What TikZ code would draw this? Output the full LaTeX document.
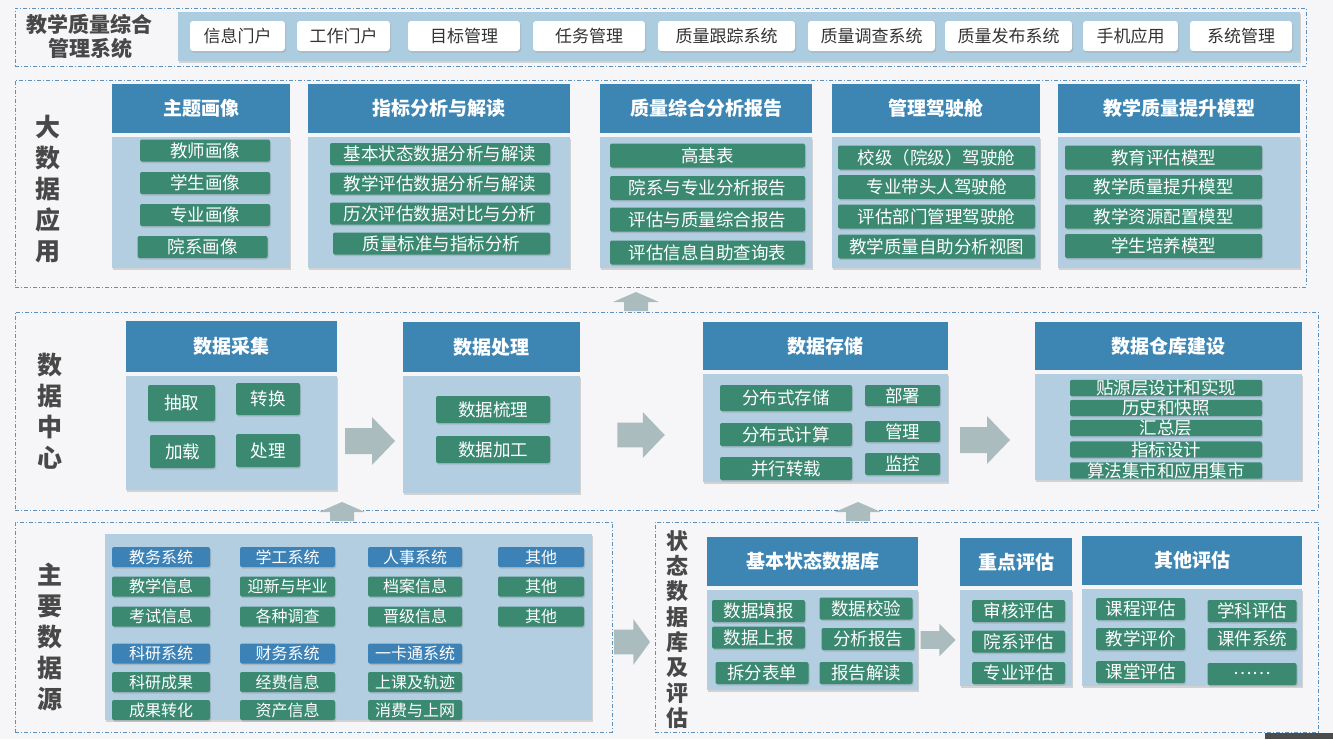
\documentclass[tikz,border=0pt]{standalone}
\usepackage{fontspec}
\setmainfont{Noto Sans CJK SC}
\usepackage{xcolor}
\usetikzlibrary{positioning,shadows}
\definecolor{bgcol}{RGB}{246,246,248}
\definecolor{zonecol}{RGB}{92,145,190}
\definecolor{headblue}{RGB}{61,134,180}
\definecolor{bodyblue}{RGB}{178,206,224}
\definecolor{bandblue}{RGB}{172,204,223}
\definecolor{itemgreen}{RGB}{58,137,112}
\definecolor{srcblue}{RGB}{60,130,182}
\definecolor{arrowcol}{RGB}{170,188,190}
\definecolor{labelgray}{RGB}{72,72,72}

\tikzset{
  rblock/.pic={\fill[arrowcol] (-25,-13) -- (2,-13) -- (2,-24) -- (25,0) -- (2,24) -- (2,13) -- (-25,13) -- cycle;},
  ublock/.pic={\fill[arrowcol] (-12,9) -- (-12,0) -- (-23,0) -- (0,-10) -- (23,0) -- (12,0) -- (12,9) -- cycle;}
}

\begin{document}
\begin{tikzpicture}[x=1pt,y=-1pt,
  lift/.style={drop shadow={shadow xshift=1pt,shadow yshift=-1.5pt,opacity=0.3}},
  zone/.style={draw=zonecol,line width=0.8pt,dash pattern=on 4pt off 2pt on 1pt off 2pt,inner sep=0pt},
  vlabel/.style={font=\fontsize{25}{31}\selectfont\bfseries,text=labelgray,align=center,inner sep=0pt},
  band/.style={fill=bandblue,inner sep=0pt,lift},
  tab/.style={fill=white,rounded corners=3pt,text=black!80,font=\fontsize{17}{19}\selectfont,inner sep=0pt,minimum height=30pt,lift},
  hdr/.style={fill=headblue,text=white,font=\fontsize{19}{21}\selectfont\bfseries,inner sep=0pt},
  body/.style={fill=bodyblue,inner sep=0pt,lift},
  item/.style={fill=itemgreen,text=white,rounded corners=2pt,font=\fontsize{17.5}{19}\selectfont,inner sep=0pt,lift},
  src/.style={item,font=\fontsize{16}{18}\selectfont,minimum height=20pt}]

\fill[bgcol] (0,0) rectangle (1333,739);
\useasboundingbox (0,0) rectangle (1333,739);

% management system bar
\node[zone,minimum width=1291pt,minimum height=58pt] (zsys) at (660.5,37) {};
\node[font=\fontsize{21}{24}\selectfont\bfseries,text=labelgray,align=center,inner sep=0pt] (systitle) at (90,37) {教学质量综合\\管理系统};
\node[band,minimum width=1122pt,minimum height=49pt] (sysband) at (739,36.5) {};
\node[tab,minimum width=95pt] (tp1) at (237.5,36) {信息门户};
\node[tab,minimum width=93pt] (tp2) at (343.5,36) {工作门户};
\node[tab,minimum width=112pt] (tp3) at (464,36) {目标管理};
\node[tab,minimum width=112pt] (tp4) at (589,36) {任务管理};
\node[tab,minimum width=137pt] (tp5) at (726.5,36) {质量跟踪系统};
\node[tab,minimum width=127pt] (tp6) at (871.5,36) {质量调查系统};
\node[tab,minimum width=127pt] (tp7) at (1008.5,36) {质量发布系统};
\node[tab,minimum width=95pt] (tp8) at (1130.5,36) {手机应用};
\node[tab,minimum width=102pt] (tp9) at (1241,36) {系统管理};

% big data applications
\node[zone,minimum width=1291pt,minimum height=207pt] (zapp) at (660.5,183.5) {};
\node[vlabel] (lapp) at (48,189) {大\\数\\据\\应\\用};

\node[hdr,minimum width=178pt,minimum height=49pt] (portrait) at (201,108.5) {主题画像};
\node[body,minimum width=178pt,minimum height=131pt,below=4pt of portrait] (portraitbody) {};
\node[item,minimum width=130pt,minimum height=22pt] (pt1) at (205,150.5) {教师画像};
\node[item,minimum width=130pt,minimum height=22pt] (pt2) at (205,183) {学生画像};
\node[item,minimum width=130pt,minimum height=22pt] (pt3) at (205,215) {专业画像};
\node[item,minimum width=130pt,minimum height=22pt] (pt4) at (202.5,247) {院系画像};

\node[hdr,minimum width=262pt,minimum height=49pt] (index) at (439,108.5) {指标分析与解读};
\node[body,minimum width=262pt,minimum height=131pt,below=4pt of index] (indexbody) {};
\node[item,minimum width=220pt,minimum height=22pt] (ix1) at (440,154) {基本状态数据分析与解读};
\node[item,minimum width=220pt,minimum height=22pt] (ix2) at (440,183.5) {教学评估数据分析与解读};
\node[item,minimum width=220pt,minimum height=22pt] (ix3) at (440,213.5) {历次评估数据对比与分析};
\node[item,minimum width=217pt,minimum height=22pt] (ix4) at (441.5,243.5) {质量标准与指标分析};

\node[hdr,minimum width=212pt,minimum height=49pt] (report) at (706,108.5) {质量综合分析报告};
\node[body,minimum width=212pt,minimum height=131pt,below=4pt of report] (reportbody) {};
\node[item,minimum width=195pt,minimum height=24pt] (rp1) at (707.5,155.5) {高基表};
\node[item,minimum width=195pt,minimum height=24pt] (rp2) at (707.5,188) {院系与专业分析报告};
\node[item,minimum width=195pt,minimum height=24pt] (rp3) at (707.5,219.5) {评估与质量综合报告};
\node[item,minimum width=195pt,minimum height=24pt] (rp4) at (707.5,252.5) {评估信息自助查询表};

\node[hdr,minimum width=208pt,minimum height=49pt] (cockpit) at (936,108.5) {管理驾驶舱};
\node[body,minimum width=208pt,minimum height=131pt,below=4pt of cockpit] (cockpitbody) {};
\node[item,minimum width=197pt,minimum height=24pt] (ck1) at (936.5,157.5) {校级（院级）驾驶舱};
\node[item,minimum width=197pt,minimum height=24pt] (ck2) at (936.5,187) {专业带头人驾驶舱};
\node[item,minimum width=197pt,minimum height=24pt] (ck3) at (936.5,216.5) {评估部门管理驾驶舱};
\node[item,minimum width=197pt,minimum height=24pt] (ck4) at (936.5,246.5) {教学质量自助分析视图};

\node[hdr,minimum width=242pt,minimum height=49pt] (model) at (1179,108.5) {教学质量提升模型};
\node[body,minimum width=242pt,minimum height=131pt,below=4pt of model] (modelbody) {};
\node[item,minimum width=197pt,minimum height=24pt] (md1) at (1163.5,157.5) {教育评估模型};
\node[item,minimum width=197pt,minimum height=24pt] (md2) at (1163.5,187) {教学质量提升模型};
\node[item,minimum width=197pt,minimum height=24pt] (md3) at (1163.5,216.5) {教学资源配置模型};
\node[item,minimum width=197pt,minimum height=24pt] (md4) at (1163.5,246) {学生培养模型};

\pic at (636,302) {ublock};

% data centre
\node[zone,minimum width=1303pt,minimum height=198pt] (zdc) at (666.5,411) {};
\node[vlabel] (ldc) at (50,411.5) {数\\据\\中\\心};

\node[hdr,minimum width=211pt,minimum height=51pt] (collect) at (231.5,346.5) {数据采集};
\node[body,minimum width=211pt,minimum height=114pt,below=4pt of collect] (collectbody) {};
\node[item,minimum width=67pt,minimum height=36pt] (cl1) at (181.5,403) {抽取};
\node[item,minimum width=64pt,minimum height=32pt] (cl2) at (268,399) {转换};
\node[item,minimum width=65pt,minimum height=33pt] (cl3) at (182.5,451.5) {加载};
\node[item,minimum width=64pt,minimum height=33pt] (cl4) at (268,450.5) {处理};

\pic at (370,441) {rblock};

\node[hdr,minimum width=177pt,minimum height=50pt] (process) at (491.5,347) {数据处理};
\node[body,minimum width=177pt,minimum height=117pt,below=4pt of process] (processbody) {};
\node[item,minimum width=114pt,minimum height=27pt] (pr1) at (493,409.5) {数据梳理};
\node[item,minimum width=114pt,minimum height=27pt] (pr2) at (493,449.5) {数据加工};

\pic[scale=0.95] at (641,435) {rblock};

\node[hdr,minimum width=245pt,minimum height=48pt] (storage) at (825.5,346) {数据存储};
\node[body,minimum width=245pt,minimum height=108pt,below=4pt of storage] (storagebody) {};
\node[item,minimum width=132pt,minimum height=26pt] (st1) at (786,398) {分布式存储};
\node[item,minimum width=75pt,minimum height=21pt] (st2) at (902.5,395.5) {部署};
\node[item,minimum width=132pt,minimum height=23pt] (st3) at (786,434.5) {分布式计算};
\node[item,minimum width=75pt,minimum height=21pt] (st4) at (902.5,431.5) {管理};
\node[item,minimum width=132pt,minimum height=23pt] (st5) at (786,468.5) {并行转载};
\node[item,minimum width=75pt,minimum height=22pt] (st6) at (902.5,464) {监控};

\pic at (985,440) {rblock};

\node[hdr,minimum width=267pt,minimum height=48pt] (warehouse) at (1168.5,346) {数据仓库建设};
\node[body,minimum width=267pt,minimum height=106pt,below=4pt of warehouse] (warehousebody) {};
\node[item,minimum width=192pt,minimum height=16pt] (wh1) at (1166,388) {贴源层设计和实现};
\node[item,minimum width=192pt,minimum height=16pt] (wh2) at (1166,408) {历史和快照};
\node[item,minimum width=192pt,minimum height=16pt] (wh3) at (1166,428) {汇总层};
\node[item,minimum width=192pt,minimum height=16pt] (wh4) at (1166,449.5) {指标设计};
\node[item,minimum width=192pt,minimum height=16pt] (wh5) at (1166,470.5) {算法集市和应用集市};

\pic at (342,512) {ublock};
\pic at (858,512) {ublock};

% main data sources
\node[zone,minimum width=597pt,minimum height=210pt] (zsrc) at (313.5,627) {};
\node[vlabel] (lsrc) at (50,637) {主\\要\\数\\据\\源};
\node[body,minimum width=487pt,minimum height=186pt] (srcbody) at (348.5,627) {};
\node[src,fill=srcblue,minimum width=98pt] (sa1) at (161,557) {教务系统};
\node[src,fill=srcblue,minimum width=95pt] (sb1) at (287.5,557) {学工系统};
\node[src,fill=srcblue,minimum width=94pt] (sc1) at (415,557) {人事系统};
\node[src,fill=srcblue,minimum width=86pt] (sd1) at (541,557) {其他};
\node[src,minimum width=98pt] (sa2) at (161,586.5) {教学信息};
\node[src,minimum width=95pt] (sb2) at (287.5,586.5) {迎新与毕业};
\node[src,minimum width=94pt] (sc2) at (415,586.5) {档案信息};
\node[src,minimum width=86pt] (sd2) at (541,586.5) {其他};
\node[src,minimum width=98pt] (sa3) at (161,616.5) {考试信息};
\node[src,minimum width=95pt] (sb3) at (287.5,616.5) {各种调查};
\node[src,minimum width=94pt] (sc3) at (415,616.5) {晋级信息};
\node[src,minimum width=86pt] (sd3) at (541,616.5) {其他};
\node[src,fill=srcblue,minimum width=98pt] (sa4) at (161,653.5) {科研系统};
\node[src,fill=srcblue,minimum width=95pt] (sb4) at (287.5,653.5) {财务系统};
\node[src,fill=srcblue,minimum width=94pt] (sc4) at (415,653.5) {一卡通系统};
\node[src,minimum width=98pt] (sa5) at (161,682) {科研成果};
\node[src,minimum width=95pt] (sb5) at (287.5,682) {经费信息};
\node[src,minimum width=94pt] (sc5) at (415,682) {上课及轨迹};
\node[src,minimum width=98pt] (sa6) at (161,710) {成果转化};
\node[src,minimum width=95pt] (sb6) at (287.5,710) {资产信息};
\node[src,minimum width=94pt] (sc6) at (415,710) {消费与上网};

\pic[xscale=0.72,yscale=0.95] at (632,642) {rblock};

% state database and evaluation
\node[zone,minimum width=663pt,minimum height=210pt] (zstate) at (986.5,627) {};
\node[vlabel,font=\fontsize{22}{25.3}\selectfont\bfseries] (lstate) at (677,629.5) {状\\态\\数\\据\\库\\及\\评\\估};

\node[hdr,minimum width=211pt,minimum height=49pt] (basedb) at (812.5,561.5) {基本状态数据库};
\node[body,minimum width=211pt,minimum height=100pt,below=4pt of basedb] (basedbbody) {};
\node[item,minimum width=93pt,minimum height=22pt] (bd1) at (758.5,611) {数据填报};
\node[item,minimum width=93pt,minimum height=22pt] (bd2) at (866,608.5) {数据校验};
\node[item,minimum width=93pt,minimum height=22pt] (bd3) at (758.5,637.5) {数据上报};
\node[item,minimum width=93pt,minimum height=22pt] (bd4) at (868,639) {分析报告};
\node[item,minimum width=93pt,minimum height=22pt] (bd5) at (762,673) {拆分表单};
\node[item,minimum width=93pt,minimum height=22pt] (bd6) at (866,673) {报告解读};

\pic[xscale=0.7,yscale=0.68] at (938,640) {rblock};

\node[hdr,minimum width=112pt,minimum height=48pt] (keyeval) at (1016,562) {重点评估};
\node[body,minimum width=112pt,minimum height=96pt,below=4pt of keyeval] (keyevalbody) {};
\node[item,minimum width=93pt,minimum height=22pt] (ke1) at (1018.5,611) {审核评估};
\node[item,minimum width=93pt,minimum height=22pt] (ke2) at (1018.5,641.5) {院系评估};
\node[item,minimum width=93pt,minimum height=22pt] (ke3) at (1018.5,673) {专业评估};

\node[hdr,minimum width=220pt,minimum height=49pt] (othereval) at (1192,560.5) {其他评估};
\node[body,minimum width=220pt,minimum height=97pt,below=4pt of othereval] (otherevalbody) {};
\node[item,minimum width=89pt,minimum height=22pt] (oe1) at (1140.5,609) {课程评估};
\node[item,minimum width=89pt,minimum height=22pt] (oe2) at (1252,611) {学科评估};
\node[item,minimum width=89pt,minimum height=22pt] (oe3) at (1140.5,639) {教学评价};
\node[item,minimum width=89pt,minimum height=22pt] (oe4) at (1252,639) {课件系统};
\node[item,minimum width=89pt,minimum height=22pt] (oe5) at (1140.5,672) {课堂评估};
\node[item,minimum width=89pt,minimum height=22pt] (oe6) at (1252,674) {……};

\fill[black!70] (1265,733) rectangle (1333,739);
\end{tikzpicture}
\end{document}
